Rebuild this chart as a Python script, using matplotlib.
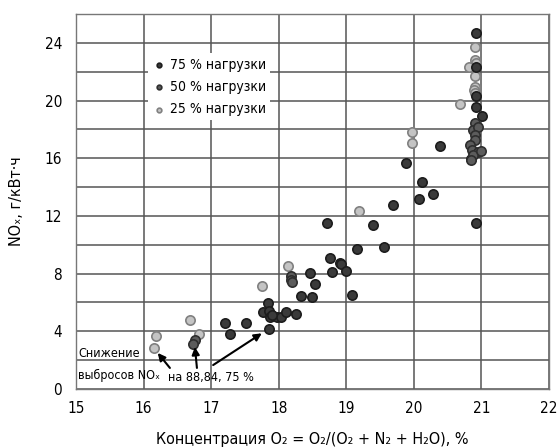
import matplotlib
matplotlib.use("Agg")
import matplotlib.pyplot as plt
from matplotlib.ticker import MultipleLocator

plt.rcParams['font.family'] = ['DejaVu Sans']
plt.rcParams['font.stretch'] = 'condensed'

# O2 concentration (%) and NOx emission (g/kWh) by engine load
load75_x = [17.20, 17.28, 17.52, 17.84, 17.77, 17.85, 17.87, 17.97, 18.04, 17.90,
            18.11, 18.26, 17.85, 18.46, 18.54, 18.33, 18.49, 18.76, 18.90, 18.92,
            18.79, 19.00, 19.08, 18.72, 19.39, 19.16, 19.56, 19.69, 19.89, 20.12,
            20.28, 20.07, 20.39, 20.92, 20.92, 20.92, 20.92, 20.92, 21.01, 20.84]
load75_y = [4.60, 3.81, 4.60, 5.98, 5.36, 5.41, 5.01, 4.97, 5.01, 5.15,
            5.36, 5.18, 4.14, 8.07, 7.26, 6.45, 6.36, 9.06, 8.76, 8.67,
            8.14, 8.18, 6.52, 11.49, 11.37, 9.69, 9.87, 12.76, 15.69, 14.38,
            13.52, 13.15, 16.85, 11.49, 24.67, 22.35, 20.32, 19.58, 18.93, 15.95]

load50_x = [16.76, 16.73, 18.18, 18.18, 18.19, 20.90, 20.87, 20.95, 20.90, 20.90,
            20.83, 20.86, 20.95, 20.88, 20.84, 21.00]
load50_y = [3.40, 3.10, 7.84, 7.56, 7.40, 18.43, 17.96, 18.19, 17.61, 17.27,
            16.92, 16.57, 16.45, 16.23, 15.88, 16.50]

load25_x = [16.18, 16.16, 16.69, 16.82, 17.76, 18.14, 19.19, 19.98, 19.98, 20.68,
            20.90, 20.90, 20.92, 20.81, 20.90, 20.90, 20.89, 20.90]
load25_y = [3.70, 2.82, 4.78, 3.81, 7.14, 8.55, 12.34, 17.85, 17.08, 19.76,
            23.70, 22.81, 22.63, 22.31, 21.71, 20.96, 20.73, 20.50]

series_labels = ['75 % нагрузки', '50 % нагрузки', '25 % нагрузки']
x_ticks = [15, 16, 17, 18, 19, 20, 21, 22]
y_ticks = [0, 4, 8, 12, 16, 20, 24]

fig = plt.figure(figsize=(5.57, 4.48), dpi=100)
ax = fig.add_axes([0.1364, 0.1317, 0.8492, 0.8371])

ax.set_xlim(15, 22)
ax.set_ylim(0, 26)
ax.set_xticks(x_ticks)
ax.set_yticks(y_ticks)
ax.yaxis.set_minor_locator(MultipleLocator(2))
ax.grid(True, which='both', color='#555555', linewidth=1.1)
ax.set_axisbelow(True)
ax.tick_params(which='both', length=0)
ax.tick_params(axis='x', pad=9, labelsize=11)
ax.tick_params(axis='y', pad=10, labelsize=11)
for s in ax.spines.values():
    s.set_color('#777777')
    s.set_linewidth(1.0)

h25 = ax.scatter(load25_x, load25_y, s=45, c='#c4c4c4', edgecolors='#808080',
                 linewidths=1.2, zorder=3, label=series_labels[2])
h75 = ax.scatter(load75_x, load75_y, s=45, c='#3a3a3a', edgecolors='#1c1c1c',
                 linewidths=1.2, zorder=4, label=series_labels[0])
h50 = ax.scatter(load50_x, load50_y, s=45, c='#5c5c5c', edgecolors='#2e2e2e',
                 linewidths=1.2, zorder=5, label=series_labels[1])

leg = ax.legend(handles=[h75, h50, h25], labels=series_labels,
                loc='upper left', bbox_to_anchor=(0.152, 0.895),
                frameon=True, fancybox=False, framealpha=1.0,
                edgecolor='none', facecolor='white', fontsize=10,
                handletextpad=0.3, borderpad=0.3, labelspacing=0.6,
                markerscale=0.5, handlelength=1.0, borderaxespad=0)

ax.set_xlabel('Концентрация O₂ = O₂/(O₂ + N₂ + H₂O), %', fontsize=11.5, labelpad=11)
ax.set_ylabel('NOₓ, г/кВт·ч', fontsize=11.5, labelpad=15)

# note on NOx reduction with arrows to the low-oxygen points
ax.text(15.03, 2.43, 'Снижение', fontsize=9, va='center', ha='left', zorder=6)
ax.text(15.03, 0.97, 'выбросов NOₓ', fontsize=9, va='center', ha='left', zorder=6)
ax.text(16.36, 0.78, 'на 88,84, 75 %', fontsize=9, va='center', ha='left', zorder=6)

arrow_kw = dict(arrowstyle='-|>', color='black', lw=1.5, mutation_scale=11,
                shrinkA=0, shrinkB=0)
ax.annotate('', xy=(16.21, 2.50), xytext=(16.39, 1.46), arrowprops=arrow_kw, zorder=6)
ax.annotate('', xy=(16.76, 2.91), xytext=(16.79, 1.46), arrowprops=arrow_kw, zorder=6)
ax.annotate('', xy=(17.75, 3.86), xytext=(17.03, 1.66), arrowprops=arrow_kw, zorder=6)

fig.savefig('out.png', dpi=100)
